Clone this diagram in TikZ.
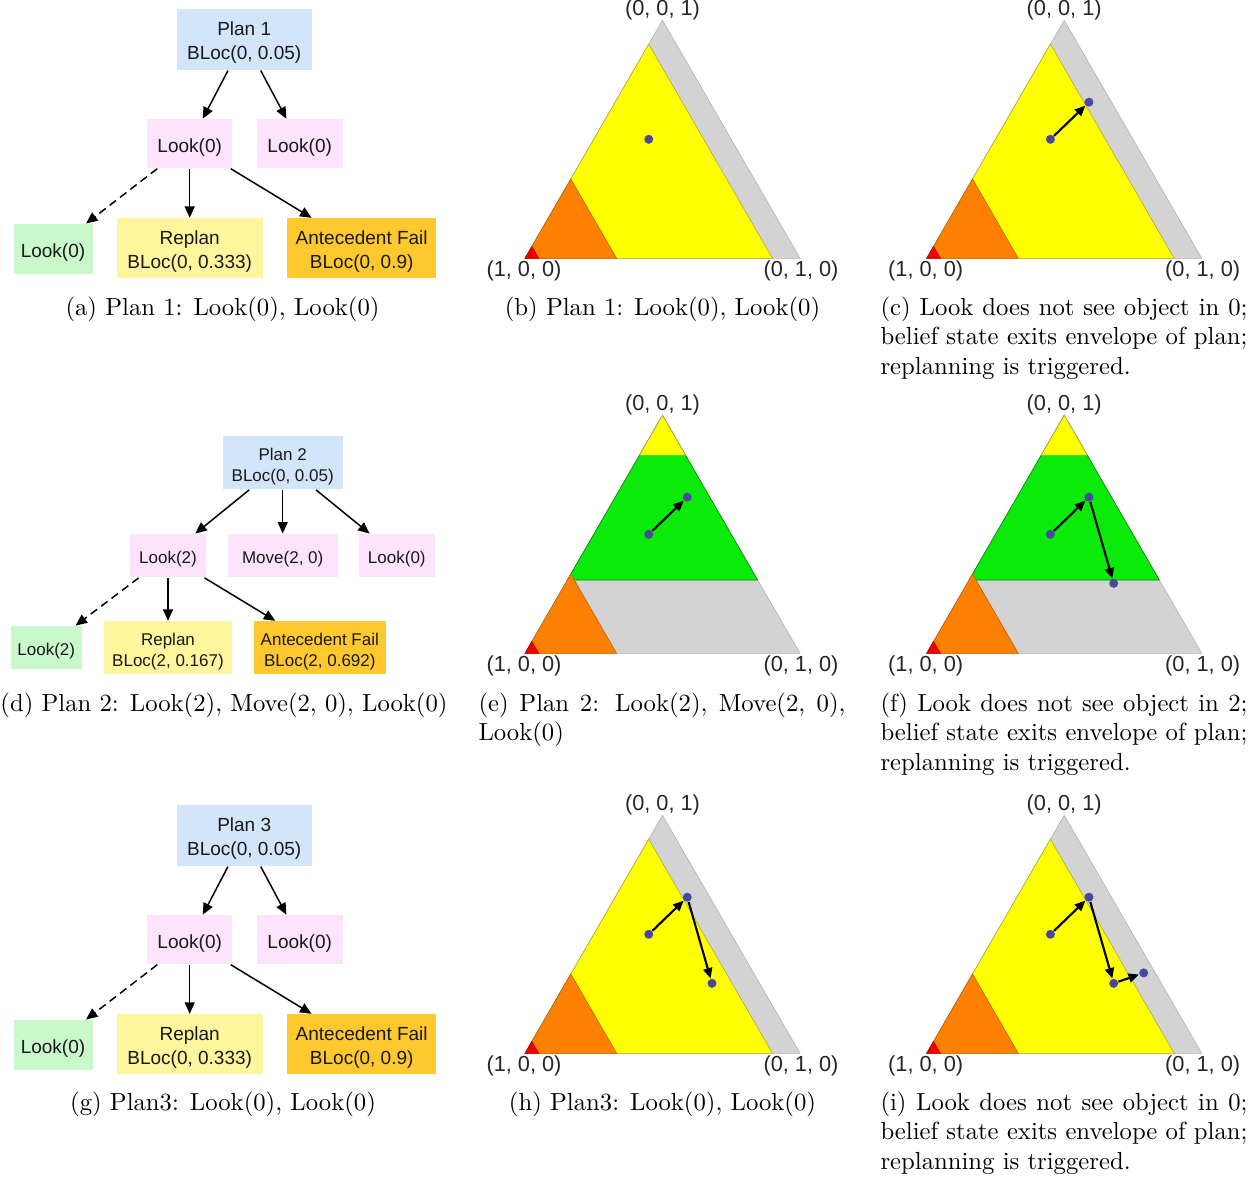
\documentclass[tikz,border=0pt]{standalone}
\usepackage{fontspec}
\newfontfamily\helv{Liberation Sans}
\usetikzlibrary{arrows.meta}
\hyphenpenalty=10000

% plan-tree colours
\definecolor{planblue}{HTML}{D3E5FB}
\definecolor{actpink}{HTML}{FDE4FC}
\definecolor{okgreen}{HTML}{C9F9CA}
\definecolor{replanyellow}{HTML}{FFF59C}
\definecolor{failorange}{HTML}{FFC82E}
% belief-simplex colours
\definecolor{regyellow}{HTML}{FFFF00}
\definecolor{reggray}{HTML}{D3D3D3}
\definecolor{regorange}{HTML}{FF8000}
\definecolor{regred}{HTML}{EE0000}
\definecolor{reggreen}{HTML}{0AEB0A}
\definecolor{dotblue}{HTML}{4848A0}

% extra room above the first line, so that box texts sit a little low
\newcommand\boxtop{\rule{0pt}{\dimexpr0.73em+2.8pt\relax}}

\tikzset{
  wh/.style 2 args={minimum width=#1*0.4pt, minimum height=#2*0.4pt},
  tnode/.style={rectangle, inner sep=0pt, align=center, text=black!90},
  planbox/.style={tnode, fill=planblue},
  actbox/.style={tnode, fill=actpink},
  okbox/.style={tnode, fill=okgreen},
  replanbox/.style={tnode, fill=replanyellow},
  failbox/.style={tnode, fill=failorange},
  edge/.style={-{Triangle[length=4.6pt,width=4pt]}, line width=0.6pt},
  obsedge/.style={edge, dash pattern=on 3.2pt off 2pt},
  bigtree/.style={font=\helv\fontsize{7.6pt}{9.6pt}\selectfont},
  smalltree/.style={font=\helv\fontsize{6.8pt}{8.4pt}\selectfont},
  dot/.style={circle, fill=dotblue, inner sep=0pt, minimum size=3.6pt},
  move/.style={-{Triangle[length=4.2pt,width=3.6pt]}, line width=0.85pt},
  vlabel/.style={font=\helv\fontsize{8.7pt}{10pt}\selectfont, inner sep=0pt, text=black!85},
  caption/.style={font=\fontsize{9.88pt}{11.8pt}\selectfont, inner sep=0pt},
  longcap/.style={caption, text width=146.8pt, align=justify, anchor=north west},
  region/.style={line width=0.25pt},
}

% corners of a belief simplex: name, x of (1,0,0) corner, y of the base
\newcommand\simplexat[3]{%
  \coordinate (#1A) at (#2,#3);
  \coordinate (#1B) at (#2+275,#3);
  \coordinate (#1C) at (#2+137.5,#3-238);
}
% vertex labels of a simplex
\newcommand\simplexlabels[3]{%
  \node[vlabel] (#1top) at (#2+137.5,#3-248) {(0, 0, 1)};
  \node[vlabel] (#1left) at (#2-1,#3+12.5) {(1, 0, 0)};
  \begin{scope}
    \clip (#2+220,#3) rectangle (#2+312,#3+30);
    \node[vlabel] (#1right) at (#2+276,#3+12.5) {(0, 1, 0)};
  \end{scope}
}
% envelope of a plan that starts with Look(0)
\newcommand\lookregions[1]{%
  \fill[reggray, draw=black!30, region] (#1A) -- (#1B) -- (#1C) -- cycle;
  \fill[regyellow, draw=yellow!65!black, region] (#1A)
    -- (barycentric cs:#1A=0.1,#1B=0.9,#1C=0)
    -- (barycentric cs:#1A=0.1,#1B=0,#1C=0.9) -- cycle;
  \fill[regorange, draw=orange!75!black, region] (#1A)
    -- (barycentric cs:#1A=0.667,#1B=0.333,#1C=0)
    -- (barycentric cs:#1A=0.667,#1B=0,#1C=0.333) -- cycle;
  \fill[regred, draw=red!75!black, region] (#1A)
    -- (barycentric cs:#1A=0.95,#1B=0.05,#1C=0)
    -- (barycentric cs:#1A=0.95,#1B=0,#1C=0.05) -- cycle;
}
% envelope of a plan that starts with Look(2)
\newcommand\moveregions[1]{%
  \fill[reggray, draw=black!30, region] (#1A) -- (#1B) -- (#1C) -- cycle;
  \fill[reggreen, draw=green!55!black, region] (#1C)
    -- (barycentric cs:#1A=0.692,#1B=0,#1C=0.308)
    -- (barycentric cs:#1A=0,#1B=0.692,#1C=0.308) -- cycle;
  \fill[regyellow, draw=yellow!65!black, region] (#1C)
    -- (barycentric cs:#1A=0.167,#1B=0,#1C=0.833)
    -- (barycentric cs:#1A=0,#1B=0.167,#1C=0.833) -- cycle;
  \fill[regorange, draw=orange!75!black, region] (#1A)
    -- (barycentric cs:#1A=0.667,#1B=0.333,#1C=0)
    -- (barycentric cs:#1A=0.667,#1B=0,#1C=0.333) -- cycle;
  \fill[regred, draw=red!75!black, region] (#1A)
    -- (barycentric cs:#1A=0.95,#1B=0.05,#1C=0)
    -- (barycentric cs:#1A=0.95,#1B=0,#1C=0.05) -- cycle;
}
% belief states along the execution
\newcommand\beliefA[1]{\node[dot] (#1P1) at (barycentric cs:#1A=0.3,#1B=0.2,#1C=0.5) {};}
\newcommand\beliefB[1]{\node[dot] (#1P2) at (barycentric cs:#1A=0.082,#1B=0.262,#1C=0.656) {};}
\newcommand\beliefC[1]{\node[dot] (#1P3) at (barycentric cs:#1A=0.173,#1B=0.533,#1C=0.294) {};}
\newcommand\beliefD[1]{\node[dot] (#1P4) at (barycentric cs:#1A=0.042,#1B=0.62,#1C=0.338) {};}

\begin{document}
\begin{tikzpicture}[x=0.4pt, y=-0.4pt]
\useasboundingbox (0,0) rectangle (1260,1176);

% ---------- plan 1 tree ----------
\begin{scope}[bigtree]
  \node[planbox, wh={135}{61}] (a-plan) at (244.2,39.5) {\boxtop Plan 1\\BLoc(0, 0.05)};
  \node[actbox, wh={85}{49}] (a-look1) at (189.7,143.7) {\boxtop Look(0)};
  \node[actbox, wh={86}{49}] (a-look2) at (299.7,143.7) {\boxtop Look(0)};
  \node[okbox, wh={79}{50}] (a-obs) at (53,249) {\boxtop Look(0)};
  \node[replanbox, wh={146}{60}] (a-replan) at (189.7,248.3) {\boxtop Replan\\BLoc(0, 0.333)};
  \node[failbox, wh={149}{60}] (a-fail) at (361.7,248.3) {\boxtop Antecedent Fail\\BLoc(0, 0.9)};
\end{scope}
\draw[edge] (a-plan) -- (a-look1);
\draw[edge] (a-plan) -- (a-look2);
\draw[obsedge] (a-look1) -- (a-obs);
\draw[edge] (a-look1) -- (a-replan);
\draw[edge] (a-look1) -- (a-fail);

% ---------- plan 2 tree ----------
\begin{scope}[smalltree]
  \node[planbox, wh={120}{53.3}] (d-plan) at (282.7,462.7) {\boxtop Plan 2\\BLoc(0, 0.05)};
  \node[actbox, wh={75.7}{43.3}] (d-look1) at (168,555.7) {\boxtop Look(2)};
  \node[actbox, wh={110}{43.3}] (d-move) at (282.7,555.7) {\boxtop Move(2, 0)};
  \node[actbox, wh={76.3}{43.3}] (d-look2) at (396.8,555.7) {\boxtop Look(0)};
  \node[okbox, wh={70.7}{43.3}] (d-obs) at (46.3,647.7) {\boxtop Look(2)};
  \node[replanbox, wh={128.7}{53}] (d-replan) at (168,647.8) {\boxtop Replan\\BLoc(2, 0.167)};
  \node[failbox, wh={131.7}{53}] (d-fail) at (319.8,647.8) {\boxtop Antecedent Fail\\BLoc(2, 0.692)};
\end{scope}
\draw[edge] (d-plan) -- (d-look1);
\draw[edge] (d-plan) -- (d-move);
\draw[edge] (d-plan) -- (d-look2);
\draw[obsedge] (d-look1) -- (d-obs);
\draw[edge] (d-look1) -- (d-replan);
\draw[edge] (d-look1) -- (d-fail);

% ---------- plan 3 tree ----------
\begin{scope}[bigtree]
  \node[planbox, wh={135}{61}] (g-plan) at (244.2,835.5) {\boxtop Plan 3\\BLoc(0, 0.05)};
  \node[actbox, wh={85}{49}] (g-look1) at (189.7,939.7) {\boxtop Look(0)};
  \node[actbox, wh={86}{49}] (g-look2) at (299.7,939.7) {\boxtop Look(0)};
  \node[okbox, wh={79}{50}] (g-obs) at (53,1045) {\boxtop Look(0)};
  \node[replanbox, wh={146}{60}] (g-replan) at (189.7,1044.3) {\boxtop Replan\\BLoc(0, 0.333)};
  \node[failbox, wh={149}{60}] (g-fail) at (361.7,1044.3) {\boxtop Antecedent Fail\\BLoc(0, 0.9)};
\end{scope}
\draw[edge] (g-plan) -- (g-look1);
\draw[edge] (g-plan) -- (g-look2);
\draw[obsedge] (g-look1) -- (g-obs);
\draw[edge] (g-look1) -- (g-replan);
\draw[edge] (g-look1) -- (g-fail);

% ---------- belief simplices ----------
\simplexat{b}{525}{258.3}   \lookregions{b} \simplexlabels{b}{525}{258.3}
\simplexat{c}{926.7}{258.3} \lookregions{c} \simplexlabels{c}{926.7}{258.3}
\simplexat{e}{525}{653.3}   \moveregions{e} \simplexlabels{e}{525}{653.3}
\simplexat{f}{926.7}{653.3} \moveregions{f} \simplexlabels{f}{926.7}{653.3}
\simplexat{h}{525}{1053.3}  \lookregions{h} \simplexlabels{h}{525}{1053.3}
\simplexat{i}{926.7}{1053.3} \lookregions{i} \simplexlabels{i}{926.7}{1053.3}

% belief trajectories
\beliefA{b}
\beliefA{c} \beliefB{c}
\draw[move] (cP1) -- (cP2);
\beliefA{e} \beliefB{e}
\draw[move] (eP1) -- (eP2);
\beliefA{f} \beliefB{f} \beliefC{f}
\draw[move] (fP1) -- (fP2);
\draw[move] (fP2) -- (fP3);
\beliefA{h} \beliefB{h} \beliefC{h}
\draw[move] (hP1) -- (hP2);
\draw[move] (hP2) -- (hP3);
\beliefA{i} \beliefB{i} \beliefC{i} \beliefD{i}
\draw[move] (iP1) -- (iP2);
\draw[move] (iP2) -- (iP3);
\draw[move] (iP3) -- (iP4);

% ---------- captions ----------
\node[caption, anchor=base] (cap-a) at (222.5,315) {(a) Plan 1: Look(0), Look(0)};
\node[caption, anchor=base] (cap-b) at (662.5,315) {(b) Plan 1: Look(0), Look(0)};
\node[longcap] (cap-c) at (880,296) {(c) Look does not see object in 0; belief state exits envelope of plan; replanning is triggered.};
\node[caption, anchor=base] (cap-d) at (224,711) {(d) Plan 2: Look(2), Move(2, 0), Look(0)};
\node[longcap] (cap-e) at (478,692) {(e) Plan 2: Look(2), Move(2, 0), Look(0)};
\node[longcap] (cap-f) at (880,692) {(f) Look does not see object in 2; belief state exits envelope of plan; replanning is triggered.};
\node[caption, anchor=base] (cap-g) at (223,1110) {(g) Plan3: Look(0), Look(0)};
\node[caption, anchor=base] (cap-h) at (662.5,1110) {(h) Plan3: Look(0), Look(0)};
\node[longcap] (cap-i) at (880,1091) {(i) Look does not see object in 0; belief state exits envelope of plan; replanning is triggered.};
\end{tikzpicture}
\end{document}
